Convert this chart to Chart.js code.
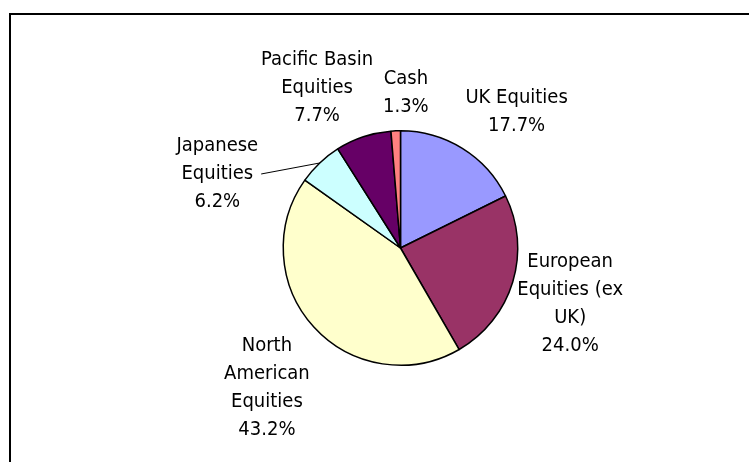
<!DOCTYPE html>
<html>
<head>
<meta charset="utf-8">
<script src="https://cdn.jsdelivr.net/npm/chart.js@4"></script>
<style>
  body { margin: 0; background: #fff; }
  #wrap { position: relative; width: 749px; height: 462px; }
</style>
</head>
<body>
<div id="wrap"><canvas id="pieChart" width="749" height="462"></canvas></div>
<script>
// data
const categories = ['UK Equities', 'European Equities (ex UK)', 'North American Equities',
  'Japanese Equities', 'Pacific Basin Equities', 'Cash']
const labelLines = [
  ['UK Equities'],
  ['European', 'Equities (ex', 'UK)'],
  ['North', 'American', 'Equities'],
  ['Japanese', 'Equities'],
  ['Pacific Basin', 'Equities'],
  ['Cash'],
]
const weights = [17.7, 24.0, 43.2, 6.2, 7.7, 1.3]
const colors = ['#9999ff', '#993366', '#ffffcc', '#ccffff', '#660066', '#ff8080']

// label tweaks (px) and which labels were dragged out with a leader line
const labelShift = [[8, 1], [-6, -6], [4, -3], [-54, 61], [-16, 3], [12, 1]]
const hasLeader = [false, false, false, true, false, false]

const FONT = '20px "DejaVu Sans Condensed", "DejaVu Sans"'
const LINE_H = 28

const frame = {
  id: 'frame',
  beforeDraw(chart) {
    const c = chart.ctx
    c.save()
    c.fillStyle = '#fff'
    c.fillRect(0, 0, chart.width, chart.height)
    c.strokeStyle = '#000'
    c.lineWidth = 2
    c.beginPath()
    c.moveTo(10, chart.height + 5)
    c.lineTo(10, 14)
    c.lineTo(chart.width + 5, 14)
    c.stroke()
    c.restore()
  },
}

const sliceLabels = {
  id: 'sliceLabels',
  afterDatasetsDraw(chart) {
    const c = chart.ctx
    const meta = chart.getDatasetMeta(0)
    c.save()
    c.font = FONT
    c.fillStyle = '#000'
    c.textAlign = 'center'
    c.textBaseline = 'middle'
    meta.data.forEach((arc, i) => {
      const mid = (arc.startAngle + arc.endAngle) / 2
      const dx = Math.cos(mid), dy = Math.sin(mid)
      const rr = arc.outerRadius + 11
      const ax = arc.x + dx * rr, ay = arc.y + dy * rr
      const lines = labelLines[i].concat([weights[i].toFixed(1) + '%'])
      const w = Math.max(...lines.map(l => c.measureText(l).width))
      const h = lines.length * LINE_H
      const k = 1.5
      const sx = Math.max(-1, Math.min(1, dx * k))
      const sy = Math.max(-1, Math.min(1, dy * k))
      const cx = ax + sx * w / 2 + labelShift[i][0]
      const cy = ay + sy * h / 2 + labelShift[i][1]
      lines.forEach((l, j) => {
        c.fillText(l, cx, cy - h / 2 + LINE_H / 2 + j * LINE_H)
      })
      if (hasLeader[i]) {
        const j = Math.floor(lines.length / 2)
        const lw = c.measureText(lines[j]).width
        const ly = cy - h / 2 + LINE_H / 2 + j * LINE_H
        c.strokeStyle = '#000'
        c.lineWidth = 1
        c.beginPath()
        c.moveTo(cx + lw / 2 + 8, ly)
        c.lineTo(arc.x + dx * arc.outerRadius, arc.y + dy * arc.outerRadius)
        c.stroke()
      }
    })
    c.restore()
  },
}

new Chart(document.getElementById('pieChart').getContext('2d'), {
  type: 'pie',
  data: {
    labels: categories,
    datasets: [{
      data: weights,
      backgroundColor: colors,
      borderColor: '#000',
      borderWidth: 1.5,
    }],
  },
  options: {
    responsive: false,
    animation: false,
    layout: { padding: { left: 282, right: 230, top: 130, bottom: 96 } },
    plugins: {
      legend: { display: false },
      tooltip: { enabled: false },
    },
  },
  plugins: [frame, sliceLabels],
})
</script>
</body>
</html>
